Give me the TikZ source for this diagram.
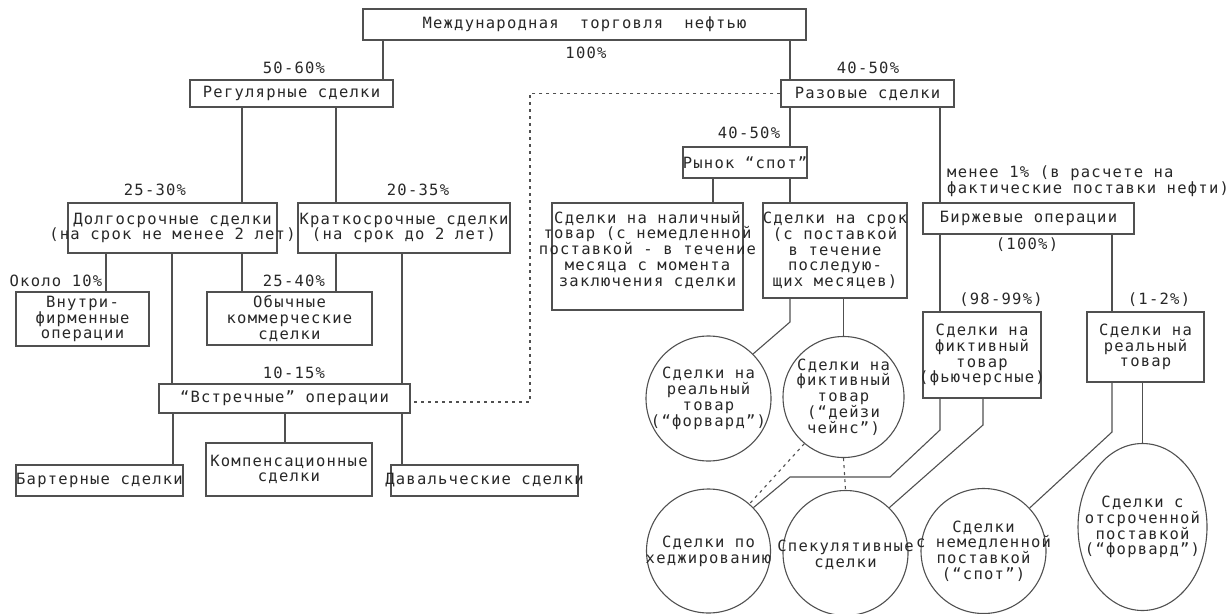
\documentclass[tikz,border=0pt]{standalone}
\usepackage{fontspec}
\usetikzlibrary{shapes.geometric}
\newfontfamily\dmono[LetterSpace=8]{DejaVu Sans Mono}
\newcommand{\zl}[1]{\makebox[0pt]{#1}}
\definecolor{lc}{HTML}{505050}
\definecolor{tc}{HTML}{282828}
\begin{document}
\begin{tikzpicture}[x=1pt,y=-1pt,
  every node/.style={font=\dmono\fontsize{15.5}{15.8}\selectfont, text=tc},
  box/.style={draw=lc, line width=1.1pt, inner sep=0pt, align=center, fill=white},
  rnd/.style={draw=lc, line width=1.1pt, circle, inner sep=0pt, align=center},
  ell/.style={draw=lc, line width=1.1pt, ellipse, inner sep=0pt, align=center},
  lbl/.style={inner sep=0pt},
  conn/.style={draw=lc, line width=1.1pt},
  dotconn/.style={draw=lc, line width=1.1pt, dash pattern=on 3pt off 4pt}]
\useasboundingbox (0,0) rectangle (1230,613);
% boxes
\node[box, minimum width=443, minimum height=31] (top) at (584.5,24.5) {\zl{Международная\ \ торговля\ \ нефтью}};
\node[lbl] (l100) at (586,53) {100\%};
\node[box, minimum width=203, minimum height=27] (reg) at (291.5,93.5) {\zl{Регулярные сделки}};
\node[lbl] (l5060) at (294,68) {50-60\%};
\node[box, minimum width=173, minimum height=27] (raz) at (867.5,93.5) {\zl{Разовые сделки}};
\node[lbl] (l4050a) at (868,68) {40-50\%};
\node[box, minimum width=124, minimum height=31] (rspot) at (745,162.5) {\zl{Рынок “спот”}};
\node[lbl] (l4050b) at (749,133) {40-50\%};
\node[box, minimum width=209, minimum height=50] (dolg) at (172.5,228) {\zl{Долгосрочные сделки}\\\zl{(на срок не менее 2 лет)}};
\node[lbl] (l2530) at (155,190) {25-30\%};
\node[box, minimum width=212, minimum height=50] (krat) at (404,228) {\zl{Краткосрочные сделки}\\\zl{(на срок до 2 лет)}};
\node[lbl] (l2035) at (418,190) {20-35\%};
\node[box, minimum width=191, minimum height=107] (nal) at (647.5,256.5) {\zl{Сделки на наличный}\\\zl{товар (с немедленной}\\\zl{поставкой - в течение}\\\zl{месяца с момента}\\\zl{заключения сделки}\\\mbox{}};
\node[box, minimum width=144, minimum height=95] (srok) at (835,250.5) {\zl{Сделки на срок}\\\zl{(с поставкой}\\\zl{в течение}\\\zl{последую-}\\\zl{щих месяцев)}};
\node[box, minimum width=211, minimum height=31] (birzh) at (1028.5,218.5) {\zl{Биржевые операции}};
\node[lbl] (l100b) at (1027,245) {(100\%)};
\node[lbl, anchor=west, align=left] (lmenee) at (947,181) {менее 1\% (в расчете на\\фактические поставки нефти)};
\node[box, minimum width=118, minimum height=86] (fikt) at (982,355) {\zl{Сделки на}\\\zl{фиктивный}\\\zl{товар}\\\zl{(фьючерсные)}};
\node[lbl] (l9899) at (1001,300) {(98-99\%)};
\node[box, minimum width=117, minimum height=70] (real) at (1145.5,347) {\zl{Сделки на}\\\zl{реальный}\\\zl{товар}};
\node[lbl] (l12) at (1159,300) {(1-2\%)};
\node[box, minimum width=133, minimum height=54] (vnutri) at (82.5,319) {\zl{Внутри-}\\\zl{фирменные}\\\zl{операции}};
\node[lbl] (l10) at (56,281) {Около 10\%};
\node[box, minimum width=165, minimum height=53] (obych) at (289.5,318.5) {\zl{Обычные}\\\zl{коммерческие}\\\zl{сделки}};
\node[lbl] (l2540) at (294,281) {25-40\%};
\node[box, minimum width=251, minimum height=29] (vstr) at (284.5,398.5) {\zl{“Встречные” операции}};
\node[lbl] (l1015) at (294,373) {10-15\%};
\node[box, minimum width=167, minimum height=31] (barter) at (99.5,480.5) {\zl{Бартерные сделки}};
\node[box, minimum width=166, minimum height=53] (komp) at (289,469.5) {\zl{Компенсационные}\\\zl{сделки}};
\node[box, minimum width=187, minimum height=31] (daval) at (484.5,480.5) {\zl{Давальческие сделки}};
% circles
\node[rnd, minimum size=125] (rfwd) at (708.5,398.5) {\zl{Сделки на}\\\zl{реальный}\\\zl{товар}\\\zl{(“форвард”)}};
\node[rnd, minimum size=121] (daisy) at (843.5,397) {\zl{Сделки на}\\\zl{фиктивный}\\\zl{товар}\\\zl{(“дейзи}\\\zl{чейнс”)}};
\node[rnd, minimum size=124] (hedge) at (708.5,551) {\zl{Сделки по}\\\zl{хеджированию}};
\node[rnd, minimum size=125] (spec) at (845.5,553) {\mbox{}\\\zl{Спекулятивные}\\\zl{сделки}};
\node[rnd, minimum size=125] (spot) at (983.5,551) {\zl{Сделки}\\\zl{с немедленной}\\\zl{поставкой}\\\zl{(“спот”)}};
\node[ell, minimum width=129, minimum height=167] (fwd) at (1142.5,527) {\zl{Сделки с}\\\zl{отсроченной}\\\zl{поставкой}\\\zl{(“форвард”)}};
% connectors
\path[conn] (top.south -| 383,0) -- (reg.north -| 383,0);
\path[conn] (top.south -| 790,0) -- (raz.north -| 790,0);
\path[conn] (raz.south -| 790,0) -- (rspot.north -| 790,0);
\path[conn] (rspot.south -| 790,0) -- (srok.north -| 790,0);
\path[conn] (rspot.south -| 713,0) -- (nal.north -| 713,0);
\path[conn] (raz.south -| 940,0) -- (birzh.north -| 940,0);
\path[conn] (reg.south -| 242,0) -- (dolg.north -| 242,0);
\path[conn] (reg.south -| 336,0) -- (krat.north -| 336,0);
\path[conn] (dolg.south -| 106,0) -- (vnutri.north -| 106,0);
\path[conn] (dolg.south -| 172,0) -- (vstr.north -| 172,0);
\path[conn] (dolg.south -| 242,0) -- (obych.north -| 242,0);
\path[conn] (krat.south -| 336,0) -- (obych.north -| 336,0);
\path[conn] (krat.south -| 402,0) -- (vstr.north -| 402,0);
\path[conn] (vstr.south -| 173,0) -- (barter.north -| 173,0);
\path[conn] (vstr.south -| 285,0) -- (komp.north -| 285,0);
\path[conn] (vstr.south -| 402,0) -- (daval.north -| 402,0);
\path[conn] (birzh.south -| 940,0) -- (fikt.north -| 940,0);
\path[conn] (birzh.south -| 1112,0) -- (real.north -| 1112,0);
\coordinate (dc) at (530,402);
\path[dotconn] (raz.west) -| (dc) -- (dc -| vstr.east);
\coordinate (k1) at (790,322);
\path[conn] (srok.south -| k1) -- (k1) -- (rfwd.45);
\path[conn] (srok.south -| daisy.north) -- (daisy.north);
\path[dotconn] (daisy.230) -- (hedge.49);
\path[dotconn] (daisy.south) -- (spec.north);
\coordinate (k2) at (940,430);
\coordinate (k3) at (890,477);
\coordinate (k4) at (790,477);
\path[conn] (fikt.south -| k2) -- (k2) -- (k3) -- (k4) -- (hedge.44);
\coordinate (k5) at (983,425);
\path[conn] (fikt.south -| k5) -- (k5) -- (spec.46);
\coordinate (k6) at (1112,432);
\path[conn] (real.south -| k6) -- (k6) -- (spot.43);
\path[conn] (real.south -| fwd.north) -- (fwd.north);
\end{tikzpicture}
\end{document}
